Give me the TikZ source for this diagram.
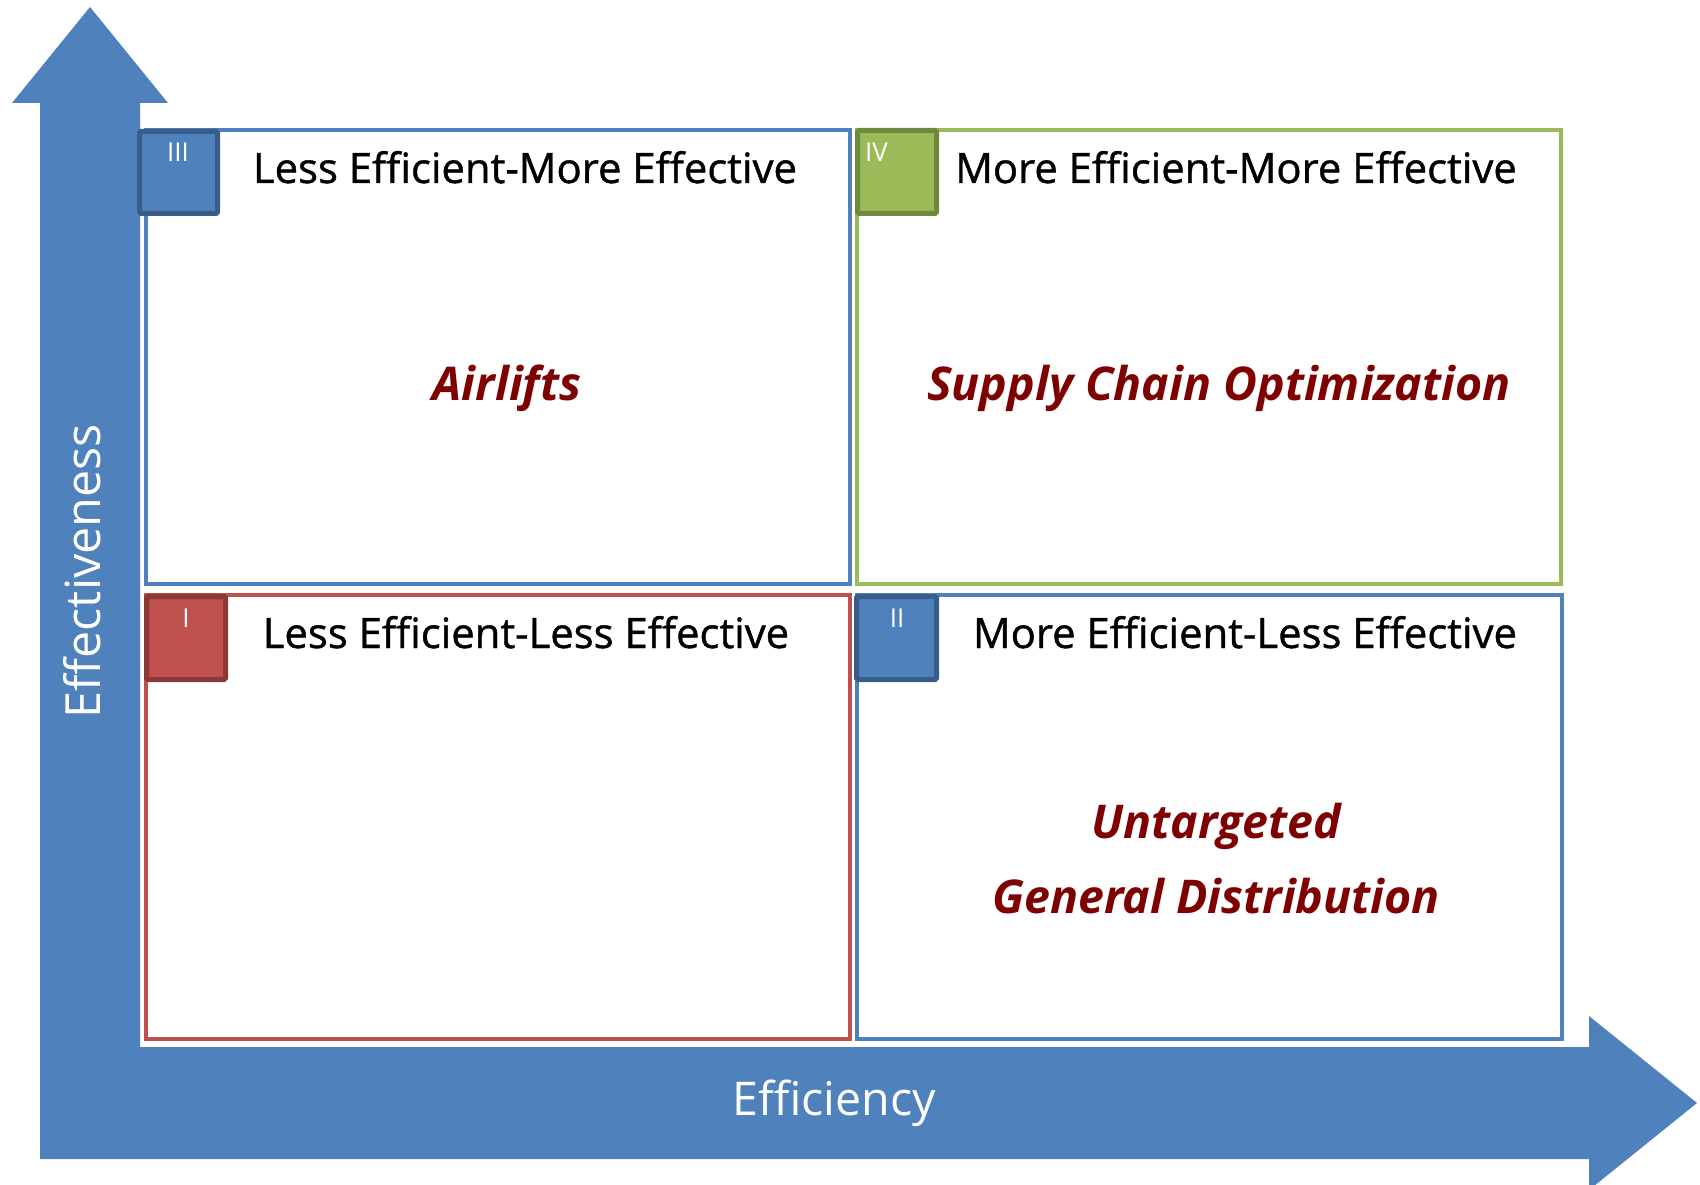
\documentclass[tikz,border=0pt]{standalone}
\usepackage{fontspec}
\setmainfont{Open Sans}
\newfontfamily\titlefont[FakeBold=1.0]{Open Sans}
\definecolor{oblue}{HTML}{4F81BD}
\definecolor{dblue}{HTML}{385D8A}
\definecolor{ogreen}{HTML}{9BBB59}
\definecolor{dgreen}{HTML}{71893F}
\definecolor{ored}{HTML}{C0504D}
\definecolor{dred}{HTML}{8C3836}
\definecolor{txtred}{HTML}{7F0000}
\tikzset{
  quad/.style={line width=3.5pt},
  tag/.style={line width=5pt, rounded corners=1.5pt},
  tagtxt/.style={text=white, font=\fontsize{26}{30}\selectfont, anchor=base, inner sep=0pt},
  title/.style={font=\titlefont\fontsize{41.8}{48}\selectfont, anchor=base, inner sep=0pt},
  item/.style={text=txtred, font=\fontsize{46.5}{54}\selectfont\bfseries\itshape, anchor=base, inner sep=0pt},
  axis/.style={text=white, anchor=base, inner sep=0pt}
}
\begin{document}
\begin{tikzpicture}[x=1pt,y=-1pt]
\useasboundingbox (0,0) rectangle (1700,1185);
% axes arrow
\fill[oblue] (40,1159) -- (40,103) -- (12,103) -- (90,7) -- (168,103) -- (140,103)
  -- (140,1047) -- (1589,1047) -- (1589,1016) -- (1697,1103) -- (1589,1190)
  -- (1589,1159) -- cycle;
% quadrant boxes
\draw[quad, oblue] (146,130) rectangle (850,584);
\draw[quad, ogreen] (857,130) rectangle (1561,584);
\draw[quad, ored] (146,595) rectangle (850,1039);
\draw[quad, oblue] (857,595) rectangle (1562,1039);
% tags
\draw[tag, dblue, fill=oblue] (139.5,131.5) rectangle (217.5,213.5);
\draw[tag, dgreen, fill=ogreen] (857.5,130.5) rectangle (936.5,213.5);
\draw[tag, dred, fill=ored] (146.5,596.5) rectangle (225.5,679.5);
\draw[tag, dblue, fill=oblue] (856.5,596.5) rectangle (936.5,679.5);
\node[tagtxt] (t3) at (178,162) {III};
\node[tagtxt, anchor=base west] (t4) at (865,162) {IV};
\node[tagtxt] (t1) at (186,627) {I};
\node[tagtxt] (t2) at (897,627) {II};
% titles
\node[title] (q3) at (525,183) {Less Efficient-More Effective};
\node[title] (q4) at (1236,183) {More Efficient-More Effective};
\node[title] (q1) at (526,648) {Less Efficient-Less Effective};
\node[title] (q2) at (1245,648) {More Efficient-Less Effective};
% items
\node[item] (a) at (507,400) {Airlifts};
\node[item] (s) at (1219,400) {Supply Chain Optimization};
\node[item] (u) at (1216,838) {Untargeted};
\node[item] (g) at (1216,913) {General Distribution};
% axis labels
\node[axis, font=\fontsize{46.5}{54}\selectfont] (ex) at (834,1115) {Efficiency};
\node[axis, font=\fontsize{48.5}{58}\selectfont, rotate=90] (ey) at (100,571) {Effectiveness};
\end{tikzpicture}
\end{document}
